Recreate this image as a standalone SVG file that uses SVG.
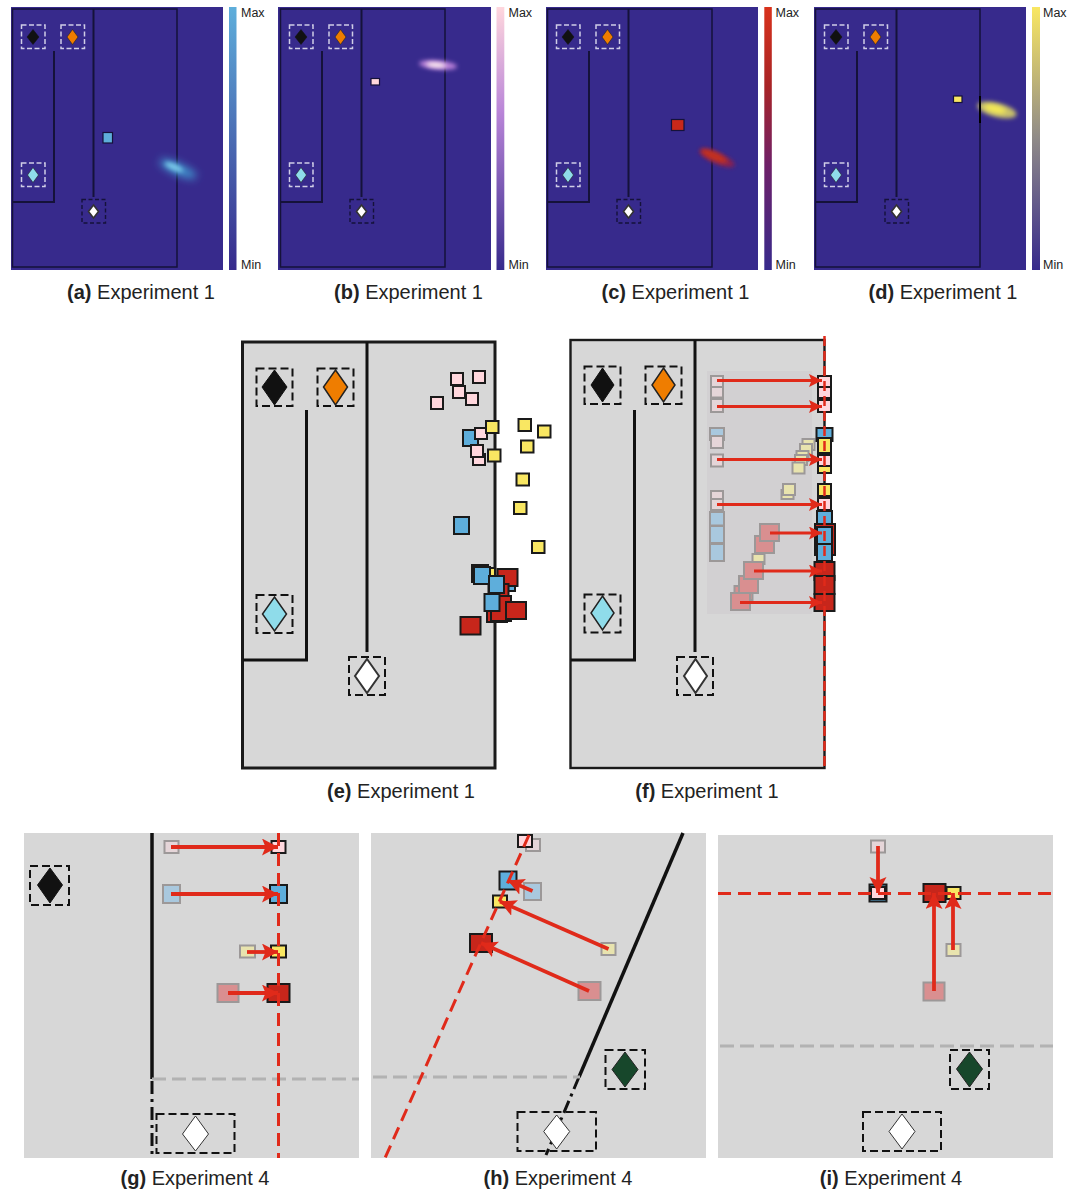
<svg xmlns="http://www.w3.org/2000/svg" xmlns:xlink="http://www.w3.org/1999/xlink" width="1077" height="1192" viewBox="0 0 1077 1192">
<style>
text{font-family:"Liberation Sans",Arial,sans-serif;fill:#222}
.cap{font-size:20px;text-anchor:middle}
.cap tspan{font-weight:bold}
.bar{font-size:12.500px}
.room{fill:#d7d7d7;stroke:none}
.w{fill:none;stroke:#111;stroke-width:3}
.wt{fill:none;stroke:#15123a;stroke-width:2}
.box{fill:none;stroke:#111;stroke-width:2;stroke-dasharray:8 4}
.lb{fill:none;stroke:#d0cde6;stroke-width:1.500;stroke-dasharray:5 2.500}
.db{fill:none;stroke:#15123a;stroke-width:1.400;stroke-dasharray:4 2.500}
.dk{fill:#111;stroke:#111}.or{fill:#ef7d00;stroke:#222}.cy{fill:#8fdcea;stroke:#222}.wh{fill:#fff;stroke:#333}.gr{fill:#17472b;stroke:#222}
.s{stroke:#1a1a1a;stroke-width:2}
.p{fill:#ffd7dd}.y{fill:#f9e762}.b{fill:#5eaedb}.r{fill:#c7261b}
.g{stroke:#9c9898;stroke-width:2}
.gp{fill:#e5d5d8}.gy{fill:#e8e3ae}.gb{fill:#a9c8de}.gre{fill:#d98f90}
.red{fill:none;stroke:#e02a1a;stroke-width:3;stroke-dasharray:13 7}
.grey{fill:none;stroke:#b2b2b2;stroke-width:3;stroke-dasharray:14 6}
.a{fill:none;stroke:#e02a1a;stroke-width:3;marker-end:url(#hs)}
.A{fill:none;stroke:#e02a1a;stroke-width:3.800;marker-end:url(#hl)}
.dd{fill:none;stroke:#111;stroke-width:3;stroke-dasharray:13 5 3 5}
</style>
<defs>
<marker id="hs" markerUnits="userSpaceOnUse" markerWidth="15" markerHeight="14" refX="13" refY="6.500" orient="auto"><path d="M0,0 L13,6.500 L0,13 L2.500,6.500 Z" fill="#e02a1a"/></marker>
<marker id="hl" markerUnits="userSpaceOnUse" markerWidth="18" markerHeight="18" refX="16" refY="8.500" orient="auto"><path d="M0,0 L16,8.500 L0,17 L3.500,8.500 Z" fill="#e02a1a"/></marker>
<filter id="bl" x="-60%" y="-150%" width="220%" height="400%"><feGaussianBlur stdDeviation="4"/></filter>
<filter id="bs" x="-60%" y="-150%" width="220%" height="400%"><feGaussianBlur stdDeviation="2.200"/></filter>
<linearGradient id="ca" x1="0" y1="0" x2="0" y2="1"><stop offset="0" stop-color="#5eaedb"/><stop offset="1" stop-color="#372a8c"/></linearGradient>
<linearGradient id="cb" x1="0" y1="0" x2="0" y2="1"><stop offset="0" stop-color="#ffd7dd"/><stop offset=".4" stop-color="#b985d8"/><stop offset="1" stop-color="#372a8c"/></linearGradient>
<linearGradient id="cc" x1="0" y1="0" x2="0" y2="1"><stop offset="0" stop-color="#d8321c"/><stop offset=".3" stop-color="#a82426"/><stop offset=".6" stop-color="#6f2068"/><stop offset="1" stop-color="#372a8c"/></linearGradient>
<linearGradient id="cd" x1="0" y1="0" x2="0" y2="1"><stop offset="0" stop-color="#f9e762"/><stop offset=".5" stop-color="#8f8a88"/><stop offset="1" stop-color="#372a8c"/></linearGradient>
<g id="map">
<rect x="11" y="7" width="212" height="263" fill="#372a8c"/>
<rect x="12.500" y="9" width="164.500" height="258" fill="none" stroke="#15123a" stroke-width="1.500"/>
<path class="wt" d="M93.500,9V197M54,51V202H12.500"/>
<rect class="lb" x="21.500" y="25" width="23.500" height="23.500"/>
<rect class="lb" x="61" y="25" width="23.500" height="23.500"/>
<rect class="lb" x="21.500" y="163" width="23.500" height="23.500"/>
<rect class="db" x="82" y="199.500" width="23.500" height="23.500"/>
<path class="dk" stroke-width=".5" d="M33,29.500 L39,37 L33,44.500 L27,37 Z"/>
<path class="or" stroke-width=".6" d="M72.500,29.500 L78,37 L72.500,44.500 L67,37 Z"/>
<path class="cy" stroke-width=".6" d="M33,167.500 L38.500,175 L33,182.500 L27.500,175 Z"/>
<path class="wh" stroke="#15123a" stroke-width="1.600" d="M93.500,205 L98.500,211.500 L93.500,218 L88.500,211.500 Z"/>
</g>
</defs>

<g id="panel-a">
<use href="#map" xlink:href="#map"/>
<ellipse cx="178" cy="169" rx="20" ry="5.500" transform="rotate(24 178 169)" fill="#3f96cf" filter="url(#bl)"/>
<ellipse cx="174" cy="167" rx="10" ry="3" transform="rotate(24 174 167)" fill="#7ccbea" filter="url(#bs)"/>
<rect x="103" y="132.500" width="9.500" height="10.500" fill="#5eaedb" stroke="#15123a" stroke-width="1.200"/>
<rect x="229" y="7" width="7.500" height="263" fill="url(#ca)"/>
<text class="bar" x="241" y="17">Max</text><text class="bar" x="241" y="269">Min</text>
<text class="cap" x="141" y="299"><tspan>(a)</tspan> Experiment 1</text>
</g>
<g id="panel-b">
<rect x="278" y="7" width="213" height="263" fill="#372a8c"/>
<use href="#map" xlink:href="#map" x="268"/>
<ellipse cx="438" cy="65" rx="19" ry="4.500" transform="rotate(5 438 65)" fill="#b87fd8" filter="url(#bs)"/>
<ellipse cx="436" cy="65" rx="10" ry="2.500" transform="rotate(5 436 65)" fill="#fff2f0" filter="url(#bs)"/>
<rect x="371" y="78.500" width="8.500" height="6.500" fill="#ffd7dd" stroke="#15123a" stroke-width="1.200"/>
<rect x="496.500" y="7" width="7.800" height="263" fill="url(#cb)"/>
<text class="bar" x="508.500" y="17">Max</text><text class="bar" x="508.500" y="269">Min</text>
<text class="cap" x="408.500" y="299"><tspan>(b)</tspan> Experiment 1</text>
</g>
<g id="panel-c">
<use href="#map" xlink:href="#map" x="535"/>
<ellipse cx="717" cy="158" rx="19" ry="5.500" transform="rotate(24 717 158)" fill="#8a2050" filter="url(#bs)"/>
<ellipse cx="714" cy="156" rx="14" ry="4" transform="rotate(24 714 156)" fill="#c5301f" filter="url(#bs)"/>
<rect x="671.500" y="119.500" width="12.500" height="11" fill="#c9281a" stroke="#15123a" stroke-width="1.200"/>
<rect x="764.300" y="7" width="7.500" height="263" fill="url(#cc)"/>
<text class="bar" x="775.500" y="17">Max</text><text class="bar" x="775.500" y="269">Min</text>
<text class="cap" x="675.500" y="299"><tspan>(c)</tspan> Experiment 1</text>
</g>
<g id="panel-d">
<use href="#map" xlink:href="#map" x="803"/>
<ellipse cx="997" cy="110" rx="20" ry="7" transform="rotate(14 997 110)" fill="#c8c06a" filter="url(#bs)"/>
<ellipse cx="995" cy="109" rx="11" ry="3.500" transform="rotate(14 995 109)" fill="#f5ea55" filter="url(#bs)"/>
<path d="M980,96V123" stroke="#000" stroke-width="2" fill="none"/>
<rect x="953.500" y="96" width="8.500" height="6.500" fill="#f9e762" stroke="#15123a" stroke-width="1.200"/>
<rect x="1032" y="7" width="8" height="263" fill="url(#cd)"/>
<text class="bar" x="1043" y="17">Max</text><text class="bar" x="1043" y="269">Min</text>
<text class="cap" x="943" y="299"><tspan>(d)</tspan> Experiment 1</text>
</g>

<g id="panel-e">
<rect x="242.500" y="342" width="252.500" height="426" class="room"/>
<rect x="242.500" y="342" width="252.500" height="426" fill="none" stroke="#1a1a1a" stroke-width="3"/>
<path class="w" d="M367,342V652M306.500,410V660H243"/>
<rect class="box" x="256.500" y="368.500" width="36" height="37.500"/>
<rect class="box" x="317.500" y="368.500" width="36" height="37.500"/>
<rect class="box" x="256.500" y="595" width="36" height="38"/>
<rect class="box" x="349" y="657" width="36" height="38"/>
<path class="dk" d="M274.500,370 L287,387 L274.500,405 L262,387 Z"/>
<path class="or" stroke-width="1.500" d="M335.500,370 L347.500,387 L335.500,405 L323.500,387 Z"/>
<path class="cy" stroke-width="1.500" d="M274.500,597 L286.500,614 L274.500,631 L262.500,614 Z"/>
<path class="wh" stroke="#111" stroke-width="2" d="M367,659 L379,676 L367,693 L355,676 Z"/>
<g class="s">
<rect class="p" x="473" y="371" width="12" height="12"/><rect class="p" x="451" y="373" width="12" height="12"/><rect class="p" x="453" y="386" width="12" height="12"/><rect class="p" x="466" y="393" width="12" height="12"/><rect class="p" x="431" y="397" width="12" height="12"/>
<rect class="b" x="463" y="430" width="15" height="16"/>
<rect class="p" x="473" y="454" width="12" height="11"/><rect class="p" x="471" y="445" width="12" height="12"/>
<rect class="p" x="475" y="428" width="12" height="11"/>
<rect class="y" x="486" y="421" width="12.500" height="12"/><rect class="y" x="518.500" y="419" width="12.500" height="12"/><rect class="y" x="538" y="425.500" width="12.500" height="12"/><rect class="y" x="521" y="440.500" width="12.500" height="12"/><rect class="y" x="488" y="449.500" width="12.500" height="12"/><rect class="y" x="516.500" y="473.500" width="12.500" height="12"/><rect class="y" x="514" y="502" width="12.500" height="12"/><rect class="y" x="532" y="541" width="12.500" height="12"/>
<rect class="b" x="454" y="517" width="15" height="17"/>
<rect class="b" x="505" y="581" width="10" height="10"/>
<rect class="y" x="483" y="568" width="12" height="12"/>
<rect class="r" x="497.500" y="569" width="20" height="17"/>
<rect class="r" x="488.500" y="584" width="20" height="16"/>
<rect class="r" x="487" y="604" width="20" height="18"/>
<rect class="r" x="491" y="596" width="20" height="25"/>
<rect class="b" x="472" y="565" width="16" height="17"/>
<rect class="b" x="474" y="567" width="16" height="17"/>
<rect class="b" x="484.500" y="594" width="15" height="17"/>
<rect class="b" x="489" y="576" width="15" height="17"/>
<rect class="r" x="506" y="602" width="20" height="17"/>
<rect class="r" x="460.500" y="617" width="20" height="17.500"/>
</g>
<text class="cap" x="401" y="798"><tspan>(e)</tspan> Experiment 1</text>
</g>

<g id="panel-f">
<rect x="570.500" y="340" width="254" height="428" class="room"/>
<rect x="707" y="371" width="105" height="243" fill="#d2d0d2"/>
<rect x="570.500" y="340" width="254" height="428" fill="none" stroke="#1a1a1a" stroke-width="2.400"/>
<path class="w" d="M695,340V652M634.500,410V660H571"/>
<rect class="box" x="584.500" y="366.500" width="36" height="37.500"/>
<rect class="box" x="645.500" y="366.500" width="36" height="37.500"/>
<rect class="box" x="584.500" y="594.500" width="36" height="38"/>
<rect class="box" x="677" y="657" width="36" height="38"/>
<path class="dk" d="M602.500,368 L614,385 L602.500,402 L591,385 Z"/>
<path class="or" stroke-width="1.500" d="M663.500,368 L675,385 L663.500,402 L652,385 Z"/>
<path class="cy" stroke-width="1.500" d="M602.500,596 L614,613 L602.500,630 L591,613 Z"/>
<path class="wh" stroke="#111" stroke-width="2" d="M695.500,659 L707,676 L695.500,693 L684,676 Z"/>
<g class="g">
<rect class="gp" x="711" y="376" width="12" height="11"/><rect class="gp" x="711" y="387" width="12" height="10.500"/><rect class="gp" x="711" y="399" width="12" height="13"/>
<rect class="gb" x="710" y="428" width="14" height="12"/><rect class="gp" x="711" y="436" width="12" height="12"/>
<rect class="gp" x="711" y="454.500" width="12" height="12"/><rect class="gp" x="711" y="491" width="12" height="10"/><rect class="gp" x="711" y="499" width="12" height="11"/>
<rect class="gb" x="710" y="512" width="14" height="13.500"/><rect class="gb" x="710" y="526" width="14" height="17"/><rect class="gb" x="710" y="544" width="14" height="17"/>
<rect class="gy" x="802.500" y="439" width="12" height="11"/><rect class="gy" x="800" y="444" width="12" height="11"/><rect class="gy" x="796.500" y="451" width="12" height="10"/><rect class="gy" x="795" y="455" width="12" height="10"/><rect class="gy" x="792.500" y="462.500" width="12" height="11"/><rect class="gy" x="781.500" y="490" width="12" height="9"/><rect class="gy" x="783" y="484" width="12" height="11"/><rect class="gy" x="752.500" y="554" width="12" height="10"/>
<rect class="gre" x="734.500" y="586" width="18" height="14"/>
<rect class="gre" x="731" y="593" width="19" height="17"/>
<rect class="gre" x="739" y="576" width="19" height="17"/>
<rect class="gre" x="744" y="562" width="19" height="17"/>
<rect class="gre" x="755" y="536" width="19" height="17"/>
<rect class="gre" x="760" y="524" width="19" height="17"/>
</g>
<g class="s">
<rect class="b" x="816.500" y="428" width="16" height="13"/>
<rect class="b" x="817" y="511" width="15" height="15"/>
<rect class="r" x="815" y="524" width="20" height="31"/>
<rect class="b" x="817" y="527" width="15" height="17"/>
<rect class="b" x="817" y="544" width="15" height="17"/>
<rect class="r" x="814.500" y="562" width="20" height="18"/>
<rect class="r" x="814.500" y="576" width="20" height="18"/>
<rect class="r" x="814.500" y="594" width="20" height="17"/>
<rect class="y" x="818" y="438" width="13" height="15"/>
<rect class="y" x="818" y="462" width="13" height="11"/>
<rect class="y" x="818" y="484" width="13" height="12"/>
<rect class="p" x="818" y="376" width="13" height="11"/><rect class="p" x="818" y="387" width="13" height="11"/><rect class="p" x="818" y="400" width="13" height="12"/>
<rect class="p" x="818" y="455" width="13" height="11"/>
<rect class="p" x="818" y="498" width="13" height="12"/>
</g>
<path class="red" d="M824.500,336V768" style="stroke-width:2.500;stroke-dasharray:10 5"/>
<path class="a" d="M717,380.500H822"/><path class="a" d="M717,406.500H822"/><path class="a" d="M717,459.500H822"/><path class="a" d="M717,504.500H822"/><path class="a" d="M770,533H822"/><path class="a" d="M754,571H822"/><path class="a" d="M740,602.500H822"/>
<text class="cap" x="707" y="798"><tspan>(f)</tspan> Experiment 1</text>
</g>

<g id="panel-g">
<rect x="24" y="833" width="335" height="325" class="room"/>
<path d="M152,833V1079" fill="none" stroke="#111" stroke-width="3.500"/>
<path class="dd" d="M152,1081V1158"/>
<path class="grey" d="M152,1079H359"/>
<rect class="box" x="156.500" y="1114" width="78" height="39"/>
<rect class="box" x="30" y="866" width="39" height="39"/>
<path class="dk" d="M50,868 L62.500,885 L50,903 L37.500,885 Z"/>
<path class="wh" d="M195.500,1116 L208.500,1134 L195.500,1151 L182.500,1134 Z"/>
<g class="g"><rect class="gp" x="164.500" y="841" width="14" height="12"/><rect class="gb" x="163" y="885" width="17" height="18"/><rect class="gy" x="240" y="945.500" width="15" height="12"/><rect class="gre" x="217.500" y="984" width="21" height="18"/></g>
<g class="s"><rect class="p" x="271.500" y="841" width="14" height="12"/><rect class="b" x="270" y="885" width="17" height="18"/><rect class="y" x="271" y="945.500" width="15" height="12"/><rect class="r" x="267.500" y="984" width="22" height="18"/></g>
<path class="red" d="M278.500,833V1158"/>
<path class="A" d="M171,847H278"/><path class="A" d="M171,894H278"/><path class="A" d="M247,952H278"/><path class="A" d="M228,993H278"/>
<text class="cap" x="195" y="1185"><tspan>(g)</tspan> Experiment 4</text>
</g>

<g id="panel-h">
<rect x="371" y="833" width="335" height="325" class="room"/>
<path d="M683,833L579,1077" fill="none" stroke="#111" stroke-width="3.500"/>
<path class="dd" d="M579,1077L546,1155"/>
<path class="grey" d="M373,1077H580"/>
<rect class="box" x="517.500" y="1112" width="78.500" height="39"/>
<rect class="box" x="605.500" y="1050" width="39.500" height="39"/>
<path class="gr" d="M625,1052 L638,1069.500 L625,1087 L612,1069.500 Z"/>
<path class="wh" d="M556.700,1115 L569.700,1131.500 L556.700,1149 L543.700,1131.500 Z"/>
<g class="g"><rect class="gp" x="526" y="839" width="14" height="12"/><rect class="gb" x="524" y="883" width="17" height="17"/><rect class="gy" x="601.500" y="943" width="14" height="12"/><rect class="gre" x="578.500" y="982" width="22" height="18"/></g>
<g class="s"><rect class="p" x="518" y="835" width="14" height="12"/><rect class="b" x="499.500" y="871.500" width="17" height="18"/><rect class="y" x="493" y="895.500" width="14" height="12"/><rect class="r" x="470" y="934" width="22" height="18"/></g>
<path class="red" d="M529,835L385,1158"/>
<path class="A" d="M532.500,891L508,880.500"/><path class="A" d="M608.500,949L500,901.500"/><path class="A" d="M589,991L481,943"/>
<text class="cap" x="558" y="1185"><tspan>(h)</tspan> Experiment 4</text>
</g>

<g id="panel-i">
<rect x="718" y="835" width="335" height="323" class="room"/>
<path class="grey" d="M720,1046H1053"/>
<rect class="box" x="863" y="1112" width="78" height="39"/>
<rect class="box" x="950" y="1050" width="39" height="39"/>
<path class="gr" d="M969.500,1052 L982.500,1069 L969.500,1087 L956.500,1069 Z"/>
<path class="wh" d="M902,1114 L915,1131.500 L902,1149 L889,1131.500 Z"/>
<g class="g"><rect class="gp" x="871" y="840.500" width="14" height="12"/><rect class="gy" x="946.500" y="944" width="14" height="12"/><rect class="gre" x="923.500" y="982.500" width="21" height="18"/></g>
<g class="s"><rect class="b" x="869.500" y="884.500" width="17" height="17"/><rect class="p" x="871" y="887" width="14" height="12"/><rect class="y" x="946.500" y="887" width="14" height="12"/><rect class="r" x="923.500" y="884" width="22" height="18"/></g>
<path class="red" d="M718,893.500H1053"/>
<path class="A" d="M878,846V893"/><path class="A" d="M934,991V893"/><path class="A" d="M953,950V893"/>
<text class="cap" x="891" y="1185"><tspan>(i)</tspan> Experiment 4</text>
</g>
</svg>
